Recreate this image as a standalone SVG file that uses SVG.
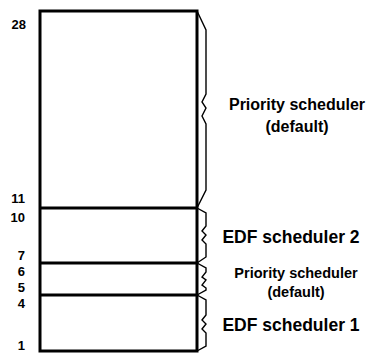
<svg xmlns="http://www.w3.org/2000/svg" width="370" height="354" viewBox="0 0 370 354">
<style>
.box{fill:#fff;stroke:#000;stroke-width:3}
.div{stroke:#000;stroke-width:3}
.brace{fill:none;stroke:#000;stroke-width:1.4;stroke-linejoin:miter}
.num{font-family:"Liberation Sans",Arial,sans-serif;font-weight:bold;font-size:13px;text-anchor:end;fill:#000}
.lbl{font-family:"Liberation Sans",Arial,sans-serif;font-weight:bold;text-anchor:middle;fill:#000}
</style>
<rect width="370" height="354" fill="#fff"/>
<g id="memory">
<rect class="box" x="40" y="11" width="157" height="340"/>
<line class="div" x1="40" y1="208" x2="197" y2="208"/>
<line class="div" x1="40" y1="263" x2="197" y2="263"/>
<line class="div" x1="40" y1="295" x2="197" y2="295"/>
</g>
<g id="axis">
<text class="num" x="26" y="29">28</text>
<text class="num" x="25" y="203">11</text>
<text class="num" x="25" y="222">10</text>
<text class="num" x="25" y="260">7</text>
<text class="num" x="25" y="276">6</text>
<text class="num" x="25" y="292">5</text>
<text class="num" x="25" y="308">4</text>
<text class="num" x="25" y="350">1</text>
</g>
<g id="braces">
<path class="brace" d="M197,11 L206,30 L206,94 L202,102 L206,108 L202,116 L206,124 L206,190 L197,208"/>
<path class="brace" d="M197,208 L206,213 L206,226 L202,231 L206,235 L202,240 L206,244 L206,257 L197,263"/>
<path class="brace" d="M197,263 L206,268 L206,272 L202,277 L206,280 L202,285 L206,288 L206,290 L197,295"/>
<path class="brace" d="M197,295 L206,300 L206,315 L202,320 L206,324 L202,329 L206,333 L206,346 L197,351"/>
</g>
<g id="label-priority-top">
<text class="lbl" x="297" y="110" font-size="16">Priority scheduler</text>
<text class="lbl" x="297" y="132" font-size="16">(default)</text>
</g>
<g id="label-edf2">
<text class="lbl" x="291" y="243" font-size="17.5">EDF scheduler 2</text>
</g>
<g id="label-priority-mid">
<text class="lbl" x="296" y="278" font-size="14.5">Priority scheduler</text>
<text class="lbl" x="296" y="297" font-size="14.5">(default)</text>
</g>
<g id="label-edf1">
<text class="lbl" x="291" y="331" font-size="17.5">EDF scheduler 1</text>
</g>
</svg>
